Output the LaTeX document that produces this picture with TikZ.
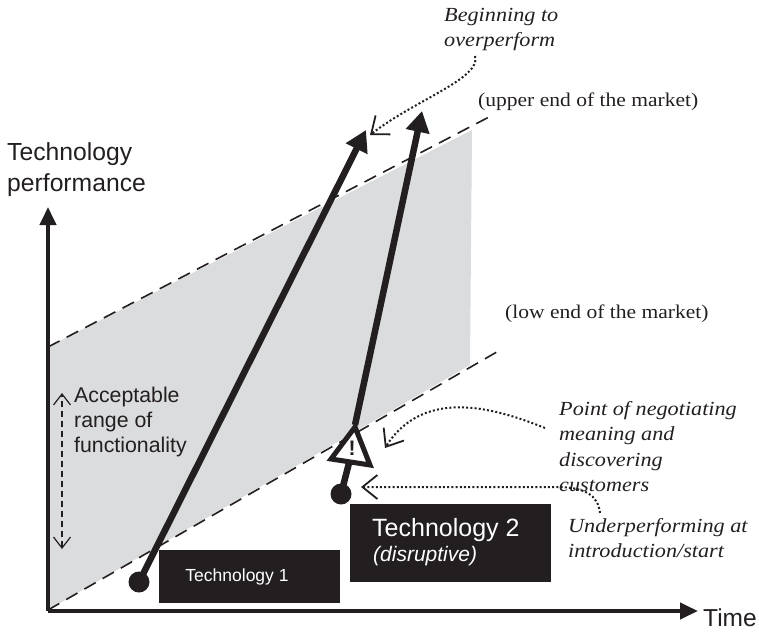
\documentclass[tikz,border=0pt]{standalone}
\usepackage{fontspec}
\setmainfont{Liberation Sans}
\newfontfamily\serifnote[FakeStretch=1.11]{Liberation Serif}
\usetikzlibrary{arrows.meta}
\definecolor{ink}{HTML}{231F20}
\definecolor{band}{HTML}{DBDCDE}
\tikzset{
  x=1pt,y=-1pt,
  axisline/.style={draw=ink,line width=4pt,-{Triangle[length=18pt,width=16pt]}},
  techline/.style={draw=ink,line width=6.5pt,-{Triangle[length=21pt,width=23pt]}},
  techstem/.style={draw=ink,line width=6.5pt},
  limit/.style={draw=ink,line width=1.6pt,dash pattern=on 13pt off 8pt},
  dot/.style={circle,fill=ink,inner sep=0pt,minimum size=21pt},
  blackbox/.style={fill=ink,text=white,inner sep=0pt,anchor=north west},
  noteline/.style={draw=ink,line width=2pt,dash pattern=on 2pt off 2.2pt,-{Straight Barb[length=15pt,width=24pt,line width=1.8pt]}},
  rangearrow/.style={draw=ink,line width=1.2pt,dash pattern=on 6pt off 4pt,{Straight Barb[length=11pt,width=17pt,line width=1.2pt]}-{Straight Barb[length=11pt,width=17pt,line width=1.2pt]}},
  note/.style={font=\serifnote\itshape\fontsize{20}{25.4}\selectfont,text=ink,align=left,anchor=north west,inner sep=0pt},
  market/.style={font=\serifnote\fontsize{19.4}{21}\selectfont,text=ink,anchor=west,inner sep=0pt},
  axlabel/.style={font=\fontsize{24.7}{31}\selectfont,text=ink,align=left,anchor=north west,inner sep=0pt},
}
\begin{document}
\begin{tikzpicture}
\useasboundingbox (0,0) rectangle (759,631);
\fill[band] (48,347) -- (472,130) -- (470,365) -- (48,610) -- cycle;
% named points
\coordinate (origin) at (48,611);
\coordinate (ytop) at (48,207);
\coordinate (xend) at (698,611);
\coordinate (upA) at (48,347);
\coordinate (upB) at (489,117);
\coordinate (lowA) at (48,610);
\coordinate (lowB) at (502,349);
\draw[limit] (upA) -- (upB);
\draw[limit] (lowA) -- (lowB);
\draw[axisline] (origin) -- (ytop);
\draw[axisline] (origin) -- (xend);
% technology 1
\node[dot] (dotA) at (139,582) {};
\coordinate (tipA) at (366,130);
\draw[techline] (dotA.center) -- (tipA);
% technology 2
\node[dot] (dotB) at (341,494) {};
\coordinate (triTop) at (355,425);
\coordinate (triBase) at (349,463);
\coordinate (tipB) at (422,111);
\draw[techstem] (dotB.center) -- (triBase);
\draw[techline] (triTop) -- (tipB);
\draw[draw=ink,fill=white,line width=5pt,miter limit=10] (355,427) -- (331,459) -- (370,465) -- cycle;
\node[font=\bfseries\fontsize{21}{21}\selectfont,text=ink,inner sep=0pt] (bang) at (352,448) {!};
% boxes
\node[blackbox,minimum width=181pt,minimum height=53pt] (boxA) at (159,550) {};
\node[text=white,font=\fontsize{17.5}{20}\selectfont,inner sep=0pt] (boxAtext) at (237,577) {Technology 1};
\node[blackbox,minimum width=201pt,minimum height=78pt] (boxB) at (350,504) {};
\node[text=white,font=\fontsize{25}{28}\selectfont,inner sep=0pt,anchor=west] (boxBtext) at (372,530) {Technology 2};
\node[text=white,font=\itshape\fontsize{21}{24}\selectfont,inner sep=0pt,anchor=west] (boxBsub) at (373,556) {(disruptive)};
% labels
\node[axlabel] (ylabel) at (7,142) {Technology\\performance};
\node[font=\fontsize{24.5}{28}\selectfont,text=ink,inner sep=0pt,anchor=west] (xlabel) at (703,618) {Time};
\node[font=\fontsize{21.3}{25}\selectfont,text=ink,align=left,anchor=north west,inner sep=0pt] (range) at (74,387) {Acceptable\\range of\\functionality};
\coordinate (rangeTop) at (62,393);
\coordinate (rangeBot) at (62,549);
\draw[rangearrow] (rangeBot) -- (rangeTop);
\node[market] (upper) at (478,102) {(upper end of the market)};
\node[market] (lower) at (505,314) {(low end of the market)};
\node[note] (noteA) at (444,8) {Beginning to\\overperform};
\node[note] (noteB) at (559,401) {Point of negotiating\\meaning and\\discovering\\customers};
\node[note] (noteC) at (568,518) {Underperforming at\\introduction/start};
% note connectors
\coordinate (fromA) at (475,56);
\coordinate (toA) at (370,135);
\coordinate (fromB) at (545,428);
\coordinate (toB) at (385,448);
\coordinate (fromC) at (600,513);
\coordinate (toC) at (361,487);
\draw[noteline] (fromA) .. controls (482,78) and (415,100) .. (toA);
\draw[noteline] (fromB) .. controls (500,410) and (425,385) .. (toB);
\draw[noteline] (fromC) .. controls (598,495) and (585,487) .. (555,487) -- (toC);
\end{tikzpicture}
\end{document}
